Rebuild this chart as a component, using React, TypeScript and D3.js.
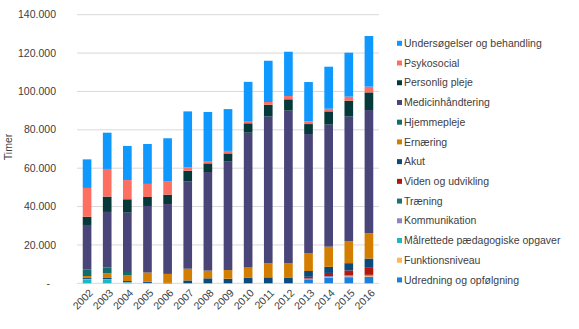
import React from "react";
import * as d3 from "d3";

const years = ["2002","2003","2004","2005","2006","2007","2008","2009","2010","2011","2012","2013","2014","2015","2016"];

// Stack order bottom -> top
const udredning =       [0,0,0,0,0,0,0,0,0,0,0,2000,3000,3200,3300];
const funktionsniveau = [0,0,0,0,0,0,0,0,0,0,0,0,200,300,400];
const maalrettede =     [2000,1900,500,200,0,0,0,0,0,0,0,0,0,0,0];
const kommunikation =   [300,300,200,0,0,0,0,0,0,0,0,500,600,600,700];
const traening =        [0,0,0,0,0,0,0,0,0,0,0,0,0,0,0];
const viden =           [0,0,0,0,0,0,0,0,0,0,0,900,1600,2600,4000];
const akut =            [500,600,500,600,200,1500,2600,2400,3000,3100,2800,3000,3200,3800,4500];
const ernaering =       [1000,2500,3100,4800,4700,6100,4000,4500,5200,7300,7600,9200,10500,11400,13200];
const hjemmepleje =     [3500,3000,1600,0,0,0,0,0,0,0,0,0,0,0,0];
const medicin =         [23100,28900,30900,34700,36400,45600,51400,56500,70300,76500,79600,62200,63600,65000,64200];
const personlig =       [4300,8000,7000,4700,4900,5500,4500,4300,4900,6200,5900,5200,6900,8300,9200];
const psykosocial =     [15000,14400,10000,6800,6800,1700,900,1300,800,1400,1700,1400,1400,2100,3000];
const undersoegelser =  [14900,18900,17800,20800,22600,29200,25900,21800,20800,21500,23100,20500,21900,22900,26400];

const seriesNames = [
  "Udredning og opfølgning",
  "Funktionsniveau",
  "Målrettede pædagogiske opgaver",
  "Kommunikation",
  "Træning",
  "Viden og udvikling",
  "Akut",
  "Ernæring",
  "Hjemmepleje",
  "Medicinhåndtering",
  "Personlig pleje",
  "Psykosocial",
  "Undersøgelser og behandling",
];
const seriesValues = [udredning, funktionsniveau, maalrettede, kommunikation, traening, viden, akut, ernaering, hjemmepleje, medicin, personlig, psykosocial, undersoegelser];
const seriesColors = [
  "#1a80dc", "#ffb65a", "#1bb8c4", "#8c86c4", "#1c7370", "#b5160d", "#0a4a7d",
  "#d47e00", "#0f6e6b", "#4a4579", "#063a3a", "#ff6f61", "#0f99ff",
];

const yTicks = [0, 20000, 40000, 60000, 80000, 100000, 120000, 140000];

const FONT = "'Liberation Sans', Arial, sans-serif";

export default function App() {
  const width = 579, height = 329;
  const x = d3.scaleBand<string>().domain(years).range([77, 379]).paddingInner(0.57).paddingOuter(0.285);
  const y = d3.scaleLinear().domain([0, 140000]).range([283.3, 14.7]);

  const table = years.map((yr, i) => {
    const row: any = { year: yr };
    seriesNames.forEach((n, k) => (row[n] = seriesValues[k][i]));
    return row;
  });
  const stacked = d3.stack<any>().keys(seriesNames)(table);

  const fmt = (v: number) => (v === 0 ? "-" : d3.format(",")(v).replace(/,/g, "."));

  const legendItems = seriesNames.map((n, k) => ({ n, c: seriesColors[k] })).reverse();

  return (
    <svg width={width} height={height} style={{ position: "absolute", left: 0, top: 0 }} fontFamily={FONT}>
      <rect width={width} height={height} fill="#ffffff" />
      {yTicks.map((t) => (
        <g key={t}>
          <line x1={77} x2={379} y1={y(t)} y2={y(t)} stroke="#d9d9d9" strokeWidth={1} />
          <text x={t === 0 ? 50 : 56} y={y(t)} dy="0.35em" textAnchor="end" fontSize={10.5} fill="#404040">
            {fmt(t)}
          </text>
        </g>
      ))}
      {stacked.map((s, k) => (
        <g key={s.key} fill={seriesColors[k]}>
          {s.map((d, i) => {
            const h = y(d[0]) - y(d[1]);
            if (h <= 0) return null;
            return <rect key={i} x={x(years[i])} width={x.bandwidth()} y={y(d[1])} height={h} />;
          })}
        </g>
      ))}
      {years.map((yr) => {
        const cx = (x(yr) as number) + x.bandwidth() / 2;
        return (
          <text key={yr} transform={`translate(${cx + 4},${291}) rotate(-45)`} textAnchor="end" dy="0.35em" fontSize={10.5} fill="#404040">
            {yr}
          </text>
        );
      })}
      <text transform={`translate(8,147) rotate(-90)`} textAnchor="middle" dy="0.35em" fontSize={10.5} fill="#404040">
        Timer
      </text>
      {legendItems.map((it, i) => {
        const cy = 43.3 + i * 19.72;
        return (
          <g key={it.n}>
            <rect x={397} y={cy - 2.5} width={5} height={5} fill={it.c} />
            <text x={404} y={cy} dy="0.35em" fontSize={10.5} fill="#404040">
              {it.n}
            </text>
          </g>
        );
      })}
    </svg>
  );
}
